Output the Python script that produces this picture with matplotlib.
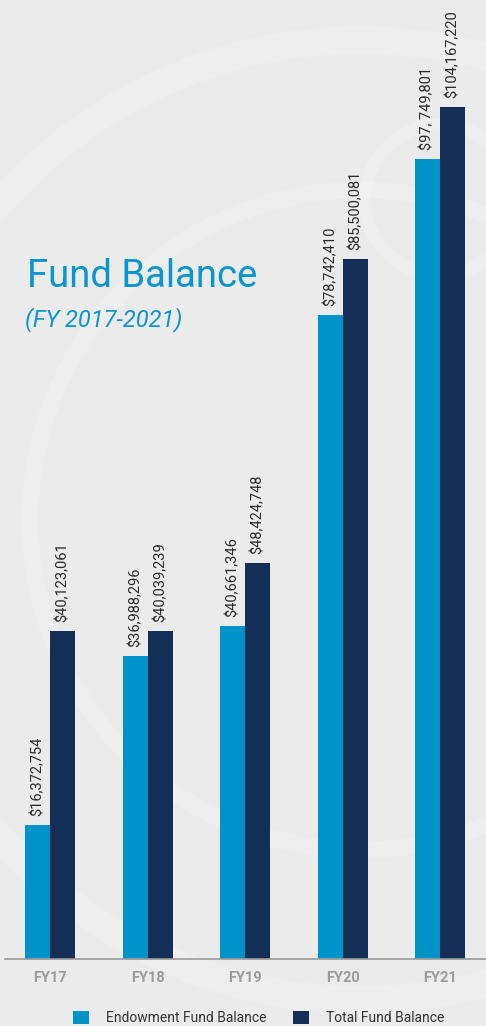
import matplotlib
matplotlib.use("Agg")
import matplotlib.pyplot as plt
from matplotlib.patches import Circle
import numpy as np

years = ["FY17", "FY18", "FY19", "FY20", "FY21"]
endowment = [16372754, 36988296, 40661346, 78742410, 97749801]
total = [40123061, 40039239, 48424748, 85500081, 104167220]
endow_labels = ["$16,372,754", "$36,988,296", "$40,661,346", "$78,742,410", "$97, 749,801"]
total_labels = ["$40,123,061", "$40,039,239", "$48,424,748", "$85,500,081", "$104,167,220"]

BG = "#ebebeb"
LIGHT = "#0093c9"
NAVY = "#142f56"
plt.rcParams["font.family"] = ["Roboto", "DejaVu Sans"]

fig = plt.figure(figsize=(4.86, 10.26), dpi=100, facecolor=BG)

# faint seal watermark in a background axes
bg = fig.add_axes([0, 0, 1, 1], zorder=-1)
bg.set_xlim(0, 486)
bg.set_ylim(1026, 0)
bg.axis("off")
for (cx, cy, r, lw) in [(360, 520, 480, 20), (360, 520, 330, 12), (440, 200, 75, 9)]:
    bg.add_patch(Circle((cx, cy), r, fill=False, ec="white", lw=lw, alpha=0.18))

ax = fig.add_axes([0, 1 - 959 / 1026, 1, 959 / 1026])
ax.set_facecolor("none")
x = np.arange(len(years))
w = 0.256
ax.bar(x - w / 2, endowment, w, color=LIGHT, label="Endowment Fund Balance", zorder=2)
ax.bar(x + w / 2, total, w, color=NAVY, label="Total Fund Balance", zorder=2)

for i in range(len(years)):
    ax.text(x[i] - w / 2, endowment[i] + 1.1e6, endow_labels[i], rotation=90,
            ha="center", va="bottom", fontsize=10.5, color="#2b2b2b")
    ax.text(x[i] + w / 2, total[i] + 1.1e6, total_labels[i], rotation=90,
            ha="center", va="bottom", fontsize=10.5, color="#2b2b2b")

ax.set_xlim(-0.513, 4.47)
ax.set_ylim(0, 117.2e6)
for s in ["top", "right", "left"]:
    ax.spines[s].set_visible(False)
ax.spines["bottom"].set_bounds(-0.46, 4.47)
ax.spines["bottom"].set_color("#9a9a9a")
ax.spines["bottom"].set_linewidth(1.2)
ax.set_yticks([])
ax.set_xticks(x)
ax.set_xticklabels(years, fontsize=10.5, fontweight="bold", color="#9b9b9b")
ax.tick_params(axis="x", length=0, pad=9)

fig.text(27 / 486, 1 - 287 / 1026, "Fund Balance", fontsize=27.5, color="#0a96cc")
fig.text(25 / 486, 1 - 326 / 1026, "(FY 2017-2021)", fontsize=17, style="italic", color="#0a96cc")

fig.legend(loc="center left", bbox_to_anchor=(66 / 486, 1 - 1018 / 1026), ncol=2, frameon=False,
           fontsize=10, handlelength=1.15, handleheight=1.15, columnspacing=1.9,
           handletextpad=1.25, labelcolor="#333333", borderpad=0.0)

fig.savefig("out.png", dpi=100, facecolor=BG)
